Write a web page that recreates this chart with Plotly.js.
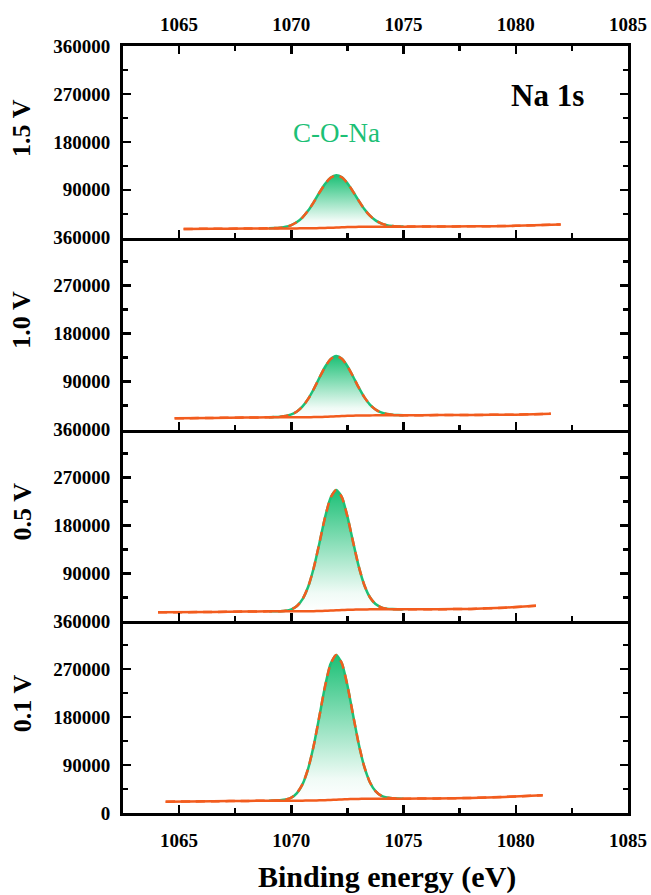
<!DOCTYPE html>
<html>
<head>
<meta charset="utf-8">
<script src="https://cdn.plot.ly/plotly-3.0.1.min.js"></script>
<style>html,body{margin:0;padding:0;background:#fff;}#chart{width:651px;height:895px;}</style>
</head>
<body>
<div id="chart"></div>
<script>
// ---------- data ----------
const energyRange = [1062.5, 1085];
const panelLabels = ["1.5 V", "1.0 V", "0.5 V", "0.1 V"];
const yTicksUpper = [90000, 180000, 270000, 360000];
const yTicksBottom = [0, 90000, 180000, 270000, 360000];
const yMinor = [45000, 135000, 225000, 315000];

// energy grid across the C-O-Na peak (eV)
const peakX = [1069, 1069.25, 1069.5, 1069.75, 1070, 1070.25, 1070.5, 1070.75, 1071, 1071.25, 1071.5, 1071.75,
  1072, 1072.25, 1072.5, 1072.75, 1073, 1073.25, 1073.5, 1073.75, 1074, 1074.25, 1074.5, 1074.75, 1075];

// 1.5 V
const left15X = [1065.2, 1066.5, 1068];
const left15Bg = [16400, 16900, 17300];
const peak15Bg = [17600, 17600, 17600, 17600, 17600, 17600, 17700, 17800, 17900, 18200, 18500, 18800,
  19200, 19600, 20000, 20200, 20500, 20600, 20700, 20800, 20800, 20800, 20800, 20800, 20800];
const peak15Comp = [200, 500, 1300, 2900, 6200, 11800, 20700, 33200, 49100, 66400, 82400, 93900,
  98000, 93900, 82400, 66400, 49100, 33200, 20700, 11800, 6200, 2900, 1300, 500, 200];
const right15X = [1076.5, 1078, 1080, 1082];
const right15Bg = [21100, 21500, 22300, 25000];

// 1.0 V
const left10X = [1064.8, 1066.5, 1068];
const left10Bg = [21000, 21800, 22500];
const peak10Bg = [22900, 22900, 22900, 22900, 22900, 22950, 23000, 23100, 23300, 23500, 23900, 24300,
  24800, 25200, 25600, 25900, 26200, 26400, 26500, 26550, 26600, 26600, 26600, 26600, 26600];
const peak10Comp = [100, 400, 1000, 2400, 5400, 10900, 20300, 34400, 52700, 73600, 93400, 107700,
  113000, 107700, 93400, 73600, 52700, 34400, 20300, 10900, 5400, 2400, 1000, 400, 100];
const right10X = [1076.5, 1078, 1080, 1081.56];
const right10Bg = [27000, 27300, 27900, 29700];

// 0.5 V
const left05X = [1064.06, 1066.5, 1068];
const left05Bg = [16700, 17500, 18200];
const peak05Bg = [18600, 18600, 18600, 18600, 18600, 18650, 18700, 18800, 19000, 19300, 19600, 20000,
  20500, 21000, 21400, 21700, 22000, 22200, 22300, 22350, 22400, 22400, 22400, 22400, 22400];
const peak05Comp = [0, 100, 400, 1300, 3800, 9900, 22800, 45900, 81500, 127300, 175100, 212000,
  226000, 212000, 175100, 127300, 81500, 45900, 22800, 9900, 3800, 1300, 400, 100, 0];
const right05X = [1076.5, 1078, 1079.5, 1080.9];
const right05Bg = [22600, 23200, 25500, 29000];

// 0.1 V
const left01X = [1064.4, 1066.5, 1068];
const left01Bg = [21300, 22000, 22700];
const peak01Bg = [23100, 23100, 23100, 23100, 23100, 23150, 23200, 23300, 23500, 23800, 24100, 24500,
  25000, 25500, 25900, 26200, 26500, 26700, 26800, 26850, 26900, 26900, 26900, 26900, 26900];
const peak01Comp = [0, 200, 700, 2100, 5700, 14200, 31000, 60200, 103500, 157900, 213400, 255700,
  271600, 255700, 213400, 157900, 103500, 60200, 31000, 14200, 5700, 2100, 700, 200, 0];
const right01X = [1076.5, 1078, 1079.5, 1081.2];
const right01Bg = [27400, 28200, 30200, 33200];

// ---------- styling ----------
const GREEN = "rgb(28,192,118)";
const ORANGE = "rgb(242,92,30)";
const FONT = "Liberation Serif, Times New Roman, serif";

const panels = [
  {lx: left15X, lb: left15Bg, pb: peak15Bg, pc: peak15Comp, rx: right15X, rb: right15Bg},
  {lx: left10X, lb: left10Bg, pb: peak10Bg, pc: peak10Comp, rx: right10X, rb: right10Bg},
  {lx: left05X, lb: left05Bg, pb: peak05Bg, pc: peak05Comp, rx: right05X, rb: right05Bg},
  {lx: left01X, lb: left01Bg, pb: peak01Bg, pc: peak01Comp, rx: right01X, rb: right01Bg}
];

const traces = [];
panels.forEach((p, i) => {
  const xa = i === 0 ? "x" : "x" + (i + 1);
  const ya = i === 0 ? "y" : "y" + (i + 1);
  const peakTop = p.pb.map((b, k) => b + p.pc[k]);
  const fullX = p.lx.concat(peakX, p.rx);
  const fullBg = p.lb.concat(p.pb, p.rb);
  const fullEnv = p.lb.concat(peakTop, p.rb);
  traces.push({x: peakX, y: p.pb, xaxis: xa, yaxis: ya, mode: "lines",
    line: {width: 0, color: GREEN, shape: "spline", smoothing: 0.6},
    showlegend: false, hoverinfo: "skip"});
  traces.push({x: peakX, y: peakTop, xaxis: xa, yaxis: ya, mode: "lines",
    line: {width: 2.5, color: GREEN, shape: "spline", smoothing: 0.6},
    fill: "tonexty", fillcolor: "rgba(28,192,118,0.4)",
    fillgradient: {type: "vertical", colorscale: [[0, "rgba(255,255,255,1)"], [0.15, "rgba(240,251,246,1)"], [1, "rgb(28,192,118)"]]},
    showlegend: false});
  traces.push({x: fullX, y: fullBg, xaxis: xa, yaxis: ya, mode: "lines",
    line: {width: 2.5, color: ORANGE, shape: "spline", smoothing: 0.6}, showlegend: false});
  traces.push({x: fullX, y: fullEnv, xaxis: xa, yaxis: ya, mode: "lines",
    line: {width: 2.5, color: ORANGE, dash: "9px,6px", shape: "spline", smoothing: 0.6}, showlegend: false});
});

const tickFont = {family: FONT, size: 19, color: "#000", weight: "bold"};
const common = {
  showline: true, linecolor: "#000", linewidth: 3, ticks: "inside", ticklen: 8, tickwidth: 2.5,
  tickcolor: "#000", showgrid: false, zeroline: false, tickfont: tickFont, fixedrange: true
};

const layout = {
  width: 651, height: 895,
  margin: {l: 123, r: 23, t: 46, b: 82},
  paper_bgcolor: "#fff", plot_bgcolor: "#fff",
  showlegend: false,
  annotations: []
};

const domains = [[0.75, 1], [0.5, 0.75], [0.25, 0.5], [0, 0.25]];
for (let i = 0; i < 4; i++) {
  const xk = i === 0 ? "xaxis" : "xaxis" + (i + 1);
  const yk = i === 0 ? "yaxis" : "yaxis" + (i + 1);
  const ya = i === 0 ? "y" : "y" + (i + 1);
  const xa = i === 0 ? "x" : "x" + (i + 1);
  layout[xk] = Object.assign({}, common, {
    anchor: ya, range: energyRange, tickmode: "linear", tick0: 1065, dtick: 5,
    minor: {tick0: 1065, dtick: 2.5, ticks: "inside", ticklen: 5, tickwidth: 2.5, tickcolor: "#000", showgrid: false},
    side: i === 0 ? "top" : "bottom",
    mirror: i === 0 ? "ticks" : false,
    showticklabels: i === 0 || i === 3,
    ticklabelstandoff: i === 0 ? 4 : 8
  });
  layout[yk] = Object.assign({}, common, {
    anchor: xa, domain: domains[i], range: [0, 360000],
    tickmode: "array", tickvals: i === 3 ? yTicksBottom : yTicksUpper, tickformat: "d",
    minor: {tickmode: "array", tickvals: yMinor, ticks: "inside", ticklen: 5, tickwidth: 2.5, tickcolor: "#000", showgrid: false},
    mirror: "ticks", ticklabelstandoff: 6
  });
  layout.annotations.push({
    text: panelLabels[i], xref: "paper", yref: "paper", x: 0, xshift: -101,
    y: (domains[i][0] + domains[i][1]) / 2, yshift: 14, textangle: -90, showarrow: false,
    xanchor: "center", yanchor: "middle",
    font: {family: FONT, size: 26, color: "#000", weight: "bold"}
  });
}

layout.annotations.push({
  text: "Na 1s", xref: "x", yref: "y", x: 1081.4, y: 268000, showarrow: false,
  xanchor: "center", yanchor: "middle", font: {family: FONT, size: 31, color: "#000", weight: "bold"}
});
layout.annotations.push({
  text: "C-O-Na", xref: "x", yref: "y", x: 1072, y: 196000, showarrow: false,
  xanchor: "center", yanchor: "middle", font: {family: FONT, size: 27, color: GREEN}
});
layout.annotations.push({
  text: "Binding energy (eV)", xref: "paper", yref: "paper", x: 0.523, y: 0, yshift: -64,
  showarrow: false, xanchor: "center", yanchor: "middle",
  font: {family: FONT, size: 30, color: "#000", weight: "bold"}
});

Plotly.newPlot("chart", traces, layout, {displayModeBar: false, staticPlot: true});
</script>
</body>
</html>
